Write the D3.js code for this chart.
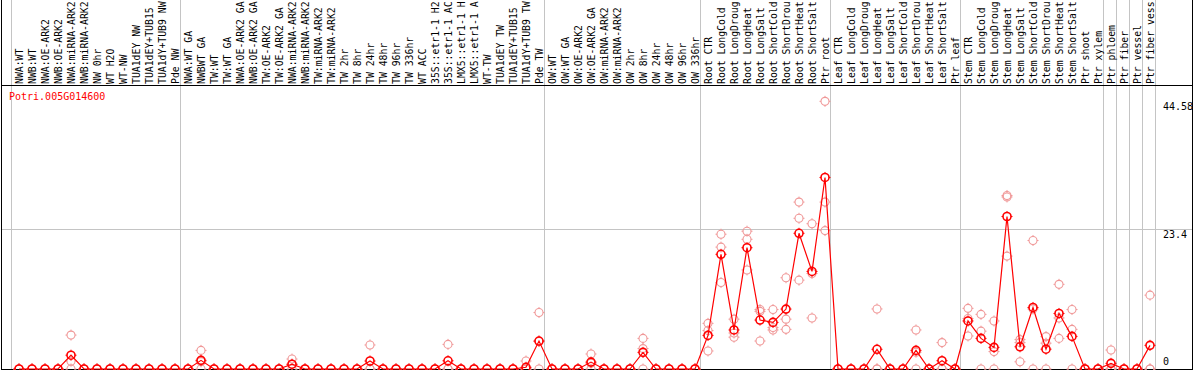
<!DOCTYPE html>
<html>
<head>
<meta charset="utf-8">
<script src="https://cdn.jsdelivr.net/npm/d3@7"></script>
<style>
html,body{margin:0;padding:0;background:#fff;}
svg{display:block;}
text{font-family:"DejaVu Sans Mono",monospace;font-size:10px;}
</style>
</head>
<body>
<svg id="chart" width="1194" height="370"></svg>
<script>
const title = "Potri.005G014600";
const categories = ["NWA:WT","NWB:WT","NWA:OE-ARK2","NWB:OE-ARK2","NWA:miRNA-ARK2","NWB:miRNA-ARK2","NW 0hr","WT H2O","WT-NW","TUA1dEY NW","TUA1dEY+TUB15 NW","TUA1dY+TUB9 NW","Pde NW",
"NWA:WT GA","NWBWT GA","TW:WT","TW:WT GA","NWA:OE-ARK2 GA","NWB:OE-ARK2 GA","TW:OE-ARK2","TW:OE-ARK2 GA","NWA:miRNA-ARK2 GA","NWB:miRNA-ARK2 GA","TW:miRNA-ARK2","TW:miRNA-ARK2 GA","TW 2hr","TW 8hr","TW 24hr","TW 48hr","TW 96hr","TW 336hr","WT ACC","35S::etr1-1 H2O","35S::etr1-1 ACC","LMX5::etr1-1 H2O","LMX5::etr1-1 ACC","WT-TW","TUA1dEY TW","TUA1dEY+TUB15 TW","TUA1dY+TUB9 TW","Pde TW",
"OW:WT","OW:WT GA","OW:OE-ARK2","OW:OE-ARK2 GA","OW:miRNA-ARK2","OW:miRNA-ARK2 GA","OW 2hr","OW 8hr","OW 24hr","OW 48hr","OW 96hr","OW 336hr",
"Root CTR","Root LongCold","Root LongDrought","Root LongHeat","Root LongSalt","Root ShortCold","Root ShortDrought","Root ShortHeat","Root ShortSalt","Ptr root",
"Leaf CTR","Leaf LongCold","Leaf LongDrought","Leaf LongHeat","Leaf LongSalt","Leaf ShortCold","Leaf ShortDrought","Leaf ShortHeat","Leaf ShortSalt","Ptr leaf",
"Stem CTR","Stem LongCold","Stem LongDrought","Stem LongHeat","Stem LongSalt","Stem ShortCold","Stem ShortDrought","Stem ShortHeat","Stem ShortSalt","Ptr shoot","Ptr xylem",
"Ptr phloem","Ptr fiber","Ptr vessel","Ptr fiber vessel"];
const labelMaxChars = 14;

// group boundaries (number of categories before each separator line)
const groupBreaks = [0, 13, 41, 53, 63, 73, 84, 85, 86, 87, 88];

// mean expression
const means = [0,0,0,0,2.3,0,0,0,0,0,0,0,0,
0,1.44,0,0,0,0,0,0,0.8,0,0,0,0,0,1.33,0,0,0,0,0,1.37,0,0,0,0,0,0.28,4.66,
0,0,0,1.15,0,0,0,2.77,0,0,0,0,
5.6,19.1,6.5,20.2,8.15,7.76,9.98,22.6,16.25,31.9,
0,0,0,3.28,0,0,3.1,0,1.38,0,
8.0,5.1,3.6,25.4,3.7,10.25,3.3,9.25,5.43,0,0,
0.94,0,0,3.94];

// replicates
const rep1 = [0,0,0,0,5.65,0,0,0,0,0,0,0,0,
0,3.1,0,0,0,0,0,0,1.66,0,0,0,0,0,4.0,0,0,0,0,0,4.1,0,0,0,0,0,1.33,9.4,
0,0,0,2.5,0,0,0,5.1,0,0,0,0,
7.6,22.45,8.3,22.95,9.9,9.9,15.2,27.8,24.2,44.58,
0,0,0,10.0,0,0,6.5,0,4.4,0,
10.1,9.1,8.0,28.9,4.9,21.4,5.4,14.1,9.9,0,0,
3.16,0,0,12.3];
const rep2 = [0,0,0,0,1.3,0,0,0,0,0,0,0,0,
0,1.2,0,0,0,0,0,0,0.74,0,0,0,0,0,0,0,0,0,0,0,0,0,0,0,0,0,0,4.6,
0,0,0,0.95,0,0,0,3.4,0,0,0,0,
6.4,20.3,6.0,21.6,9.6,6.9,8.3,25.1,15.9,27.8,
0,0,0,0,0,0,2.8,0,0,0,
8.4,6.3,2.9,28.65,4.4,10.0,4.3,8.5,6.6,0,0,
0,0,0,0];
const rep3 = [0,0,0,0,0,0,0,0,0,0,0,0,0,
0,0,0,0,0,0,0,0,0,0,0,0,0,0,0,0,0,0,0,0,0,0,0,0,0,0,0,0,
0,0,0,0,0,0,0,0,0,0,0,0,
3.0,14.4,5.3,16.5,4.66,6.5,6.6,14.8,8.5,23.05,
0,0,0,0,0,0,0,0,0,0,
5.5,0,0,18.8,1.2,0,0,5.1,0,0,0,
0,0,0,0];

const yTicks = [0, 23.4, 44.58];
const yGrid = [23.4];

const W = 1194, H = 370;
const plotTop = 85, plotBottom = 369;
const svg = d3.select("#chart");

const x = d3.scaleBand().domain(categories).range([11, 11 + 13 * categories.length]).padding(0);
const px = c => x(c) + 8;
const y = d3.scaleLinear().domain([0, 46.8]).range([plotBottom, 88]);

const colMain = "#ff0000", colRep = "#f09898", colGrid = "#c4c4c4";

// separator lines
svg.append("g").selectAll("line").data(groupBreaks).join("line")
  .attr("x1", k => 11 + x.bandwidth() * k + 0.5).attr("x2", k => 11 + x.bandwidth() * k + 0.5)
  .attr("y1", 0).attr("y2", plotBottom)
  .attr("stroke", colGrid).attr("stroke-width", 1);

// horizontal grid
svg.append("g").selectAll("line").data(yGrid).join("line")
  .attr("x1", 1).attr("x2", 1193)
  .attr("y1", d => Math.round(y(d)) + 0.5).attr("y2", d => Math.round(y(d)) + 0.5)
  .attr("stroke", colGrid).attr("stroke-width", 1);

// frame lines
svg.append("line").attr("x1", 1.5).attr("x2", 1.5).attr("y1", 0).attr("y2", H).attr("stroke", "#000");
svg.append("line").attr("x1", 1192.5).attr("x2", 1192.5).attr("y1", 0).attr("y2", H).attr("stroke", "#000");
svg.append("line").attr("x1", 1).attr("x2", 1193).attr("y1", plotTop + 0.5).attr("y2", plotTop + 0.5).attr("stroke", "#000");
svg.append("line").attr("x1", 1).attr("x2", 1193).attr("y1", plotBottom + 0.5).attr("y2", plotBottom + 0.5).attr("stroke", "#000");

// category labels (truncated to 14 characters, as in the original)
svg.append("g").selectAll("text").data(categories).join("text")
  .attr("transform", c => `translate(${px(c) + 4},84) rotate(-90)`)
  .attr("text-anchor", "start")
  .style("font-size", "9.8px")
  .attr("fill", "#000")
  .text(c => c.slice(0, labelMaxChars).trimEnd());

// y labels
svg.append("g").selectAll("text").data(yTicks).join("text")
  .attr("x", 1163)
  .attr("y", d => Math.min(y(d) + 9, 365))
  .attr("fill", "#000")
  .text(d => d);

// title
svg.append("text").attr("x", 9).attr("y", 100).attr("fill", colMain).text(title);

// marker drawing helper: circle with small cardinal ticks
function marker(g, cx, cy, r, color, sw) {
  g.append("circle").attr("cx", cx).attr("cy", cy).attr("r", r)
    .attr("fill", "none").attr("stroke", color).attr("stroke-width", sw);
  const t = r + 1.5;
  g.append("path")
    .attr("d", `M${cx},${cy - r}V${cy - t}M${cx},${cy + r}V${cy + t}M${cx - r},${cy}H${cx - t}M${cx + r},${cy}H${cx + t}`)
    .attr("stroke", color).attr("stroke-width", 1).attr("fill", "none");
}

// replicate points
const repG = svg.append("g");
[rep1, rep2, rep3].forEach(rep => {
  categories.forEach((c, i) => marker(repG, px(c), y(rep[i]), 4, colRep, 1.1));
});

// mean line
const line = d3.line().x((d, i) => px(categories[i])).y(d => y(d));
svg.append("path").datum(means).attr("d", line)
  .attr("fill", "none").attr("stroke", colMain).attr("stroke-width", 1.2);

// mean points
const meanG = svg.append("g");
categories.forEach((c, i) => marker(meanG, px(c), y(means[i]), 4, colMain, 1.6));
</script>
</body>
</html>
